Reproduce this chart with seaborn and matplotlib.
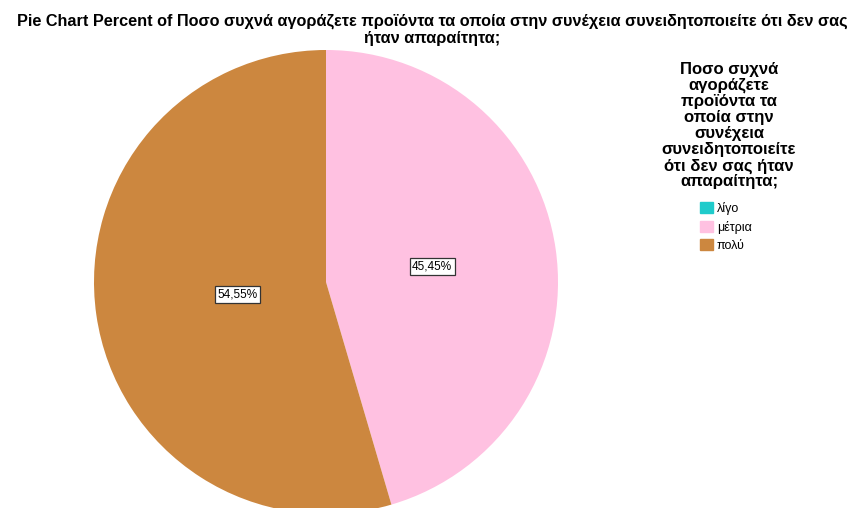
import matplotlib
matplotlib.use("Agg")
import matplotlib.pyplot as plt
import matplotlib.patches as mpatches
import numpy as np
import seaborn as sns

# Δεδομένα (ποσοστά ανά κατηγορία)
categories = ["λίγο", "μέτρια", "πολύ"]
percents = [0.0, 45.45, 54.55]
colors = ["#1fcbcb", "#ffc1e1", "#cc873f"]

title = ("Pie Chart Percent of Ποσο συχνά αγοράζετε προϊόντα τα οποία στην "
         "συνέχεια συνειδητοποιείτε ότι δεν σας\nήταν απαραίτητα;")
legend_title = ("Ποσο συχνά\nαγοράζετε\nπροϊόντα τα\nοποία στην\nσυνέχεια\n"
                "συνειδητοποιείτε\nότι δεν σας ήταν\nαπαραίτητα;")

sns.set_theme(style="white")
plt.rcParams["font.family"] = ["Liberation Sans", "DejaVu Sans"]
plt.rcParams["text.color"] = "black"

W, H = 856, 508
fig = plt.figure(figsize=(W / 100, H / 100), dpi=100)
# centre (326, 282), radius 232 px
cx, cy, r = 326, 282, 232
ax = fig.add_axes([(cx - r) / W, (H - cy - r) / H, 2 * r / W, 2 * r / H])
ax.set_facecolor("white")

palette = sns.color_palette(colors)
wedges, _ = ax.pie(percents, colors=palette, startangle=90, counterclock=False,
                   radius=1.0, wedgeprops=dict(linewidth=0))
ax.set_xlim(-1, 1)
ax.set_ylim(-1, 1)
ax.set_aspect("equal")
ax.axis("off")

# labels at the centroid of each sector
for w, p in zip(wedges, percents):
    if p <= 0:
        continue
    half = np.deg2rad(abs(w.theta2 - w.theta1)) / 2
    mid = np.deg2rad((w.theta1 + w.theta2) / 2)
    d = 2 * np.sin(half) / (3 * half)
    ax.text(d * np.cos(mid), d * np.sin(mid), f"{p:.2f}%".replace(".", ","),
            ha="center", va="center", fontsize=8.5, color="black",
            bbox=dict(boxstyle="square,pad=0.2", fc="white", ec="#333333", lw=0.9))

fig.text(432 / W, 1 - 14 / H, title, ha="center", va="top", fontsize=11.7,
         fontweight="bold", linespacing=1.12)

fig.text(729 / W, 1 - 62 / H, legend_title, ha="center", va="top", fontsize=12,
         fontweight="bold", linespacing=1.08)

handles = [mpatches.Patch(color=c, label=l) for c, l in zip(palette, categories)]
fig.legend(handles=handles, loc="upper left", bbox_to_anchor=(700 / W, 1 - 202 / H),
           frameon=False, fontsize=9, handlelength=1.0, handleheight=1.0,
           handletextpad=0.35, labelspacing=0.45, borderpad=0, borderaxespad=0)

fig.savefig("out.png", dpi=100)
